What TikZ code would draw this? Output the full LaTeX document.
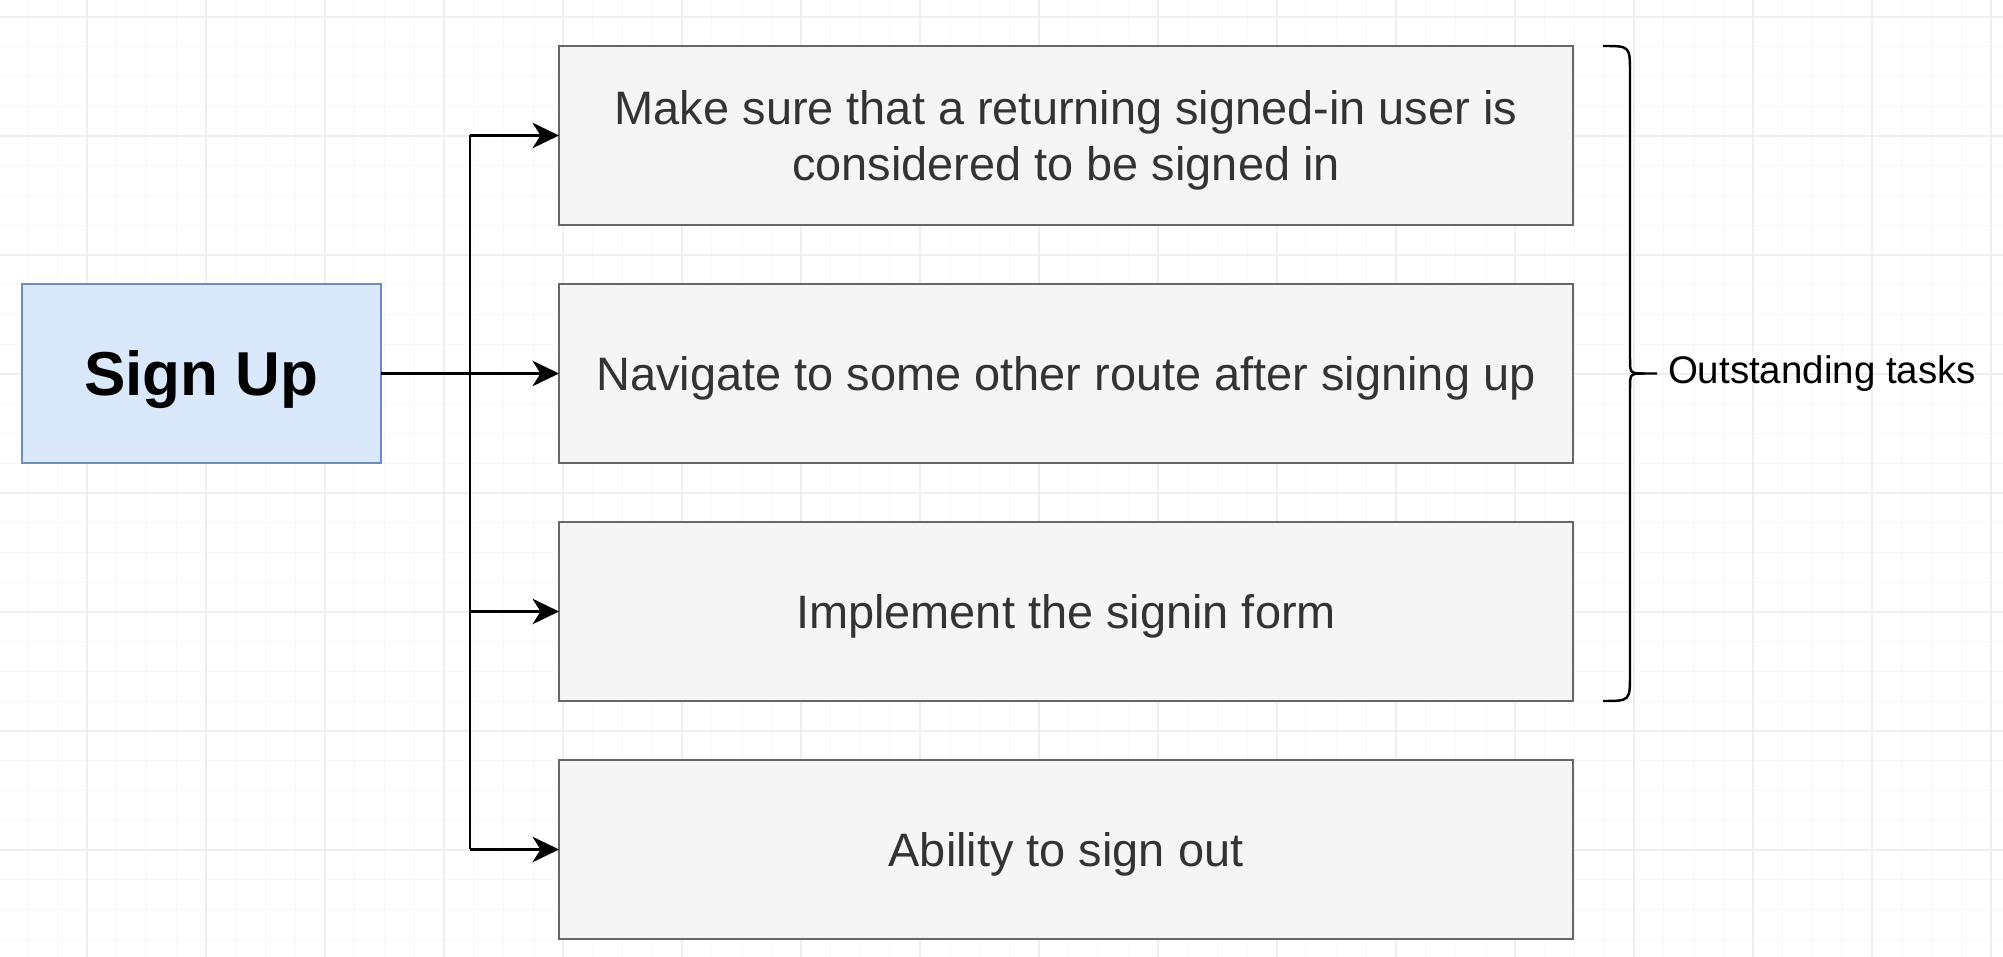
\documentclass[tikz,border=0pt]{standalone}
\usepackage{fontspec}
\setmainfont{Liberation Sans}
\usetikzlibrary{positioning,arrows.meta}
\definecolor{subox}{HTML}{DAE8FC}
\definecolor{suline}{HTML}{6C8EBF}
\definecolor{tkbox}{HTML}{F5F5F5}
\definecolor{tkline}{HTML}{666666}
\definecolor{tktext}{HTML}{333333}
\definecolor{gridmin}{HTML}{F7F7F7}
\definecolor{gridmaj}{HTML}{EFEFEF}

\begin{document}
\begin{tikzpicture}[scale=1.0]
\tikzset{ >={Stealth[length=5.3mm, width=5.1mm, inset=1.6mm]}, inner sep=0pt, outer sep=0pt,
  task/.style={draw=tkline, fill=tkbox, line width=1.1pt, minimum width=20.28cm, minimum height=3.58cm,
    text=tktext, align=center, text depth=0pt, font=\fontsize{26.7}{31.8}\selectfont},
  signup/.style={draw=suline, fill=subox, line width=1.1pt, minimum width=7.18cm, minimum height=3.58cm,
    text depth=0pt, font=\fontsize{35.3}{42}\selectfont\bfseries},
  link/.style={->, line width=1.4pt},
}

\useasboundingbox (0,0) rectangle (40.06,19.14);

%%% Grade de fundo
\foreach \i in {0,...,66} \draw [gridmin, line width=0.8pt] ({0.55+\i*0.595},0) -- ({0.55+\i*0.595},19.14);
\foreach \j in {0,...,31} \draw [gridmin, line width=0.8pt] (0,{0.355+\j*0.595}) -- (40.06,{0.355+\j*0.595});
\foreach \i in {0,...,16} \draw [gridmaj, line width=1pt] ({1.74+\i*2.38},0) -- ({1.74+\i*2.38},19.14);
\foreach \j in {0,...,7} \draw [gridmaj, line width=1pt] (0,{2.14+\j*2.38}) -- (40.06,{2.14+\j*2.38});

%%% Blocos

% tarefas
\node [task] (TK1) at (21.32,16.43) {Make sure that a returning signed-in user is\\considered to be signed in};
\node [task, below=1.18cm of TK1] (TK2) {Navigate to some other route after signing up};
\node [task, below=1.18cm of TK2] (TK3) {Implement the signin form};
\node [task, below=1.18cm of TK3] (TK4) {Ability to sign out};

% Sign Up
\node [signup, left=3.56cm of TK2] (SU) {Sign Up};

%%% Linhas

% Sign Up -> tarefa 2
\draw [link] (SU) -- (TK2);

% tronco vertical -> tarefas 1, 3, 4
\coordinate (TR) at (9.40,11.67);
\draw [line width=1.4pt] (TK1.west -| TR) -- (TK4.west -| TR);
\foreach \t in {TK1,TK3,TK4} \draw [link] (\t.west -| TR) -- (\t.west);

%%% Chave
\coordinate (BRtop) at ([xshift=0.6cm]TK1.north east);
\coordinate (BRbot) at ([xshift=0.6cm]TK3.south east);
\coordinate (BRtip) at (33.14,11.67);
\draw [line width=1.4pt] (BRtop) .. controls (32.6,18.22) .. (32.6,17.68) -- (32.6,11.97)
  .. controls (32.6,11.67) .. (32.9,11.67) -- (BRtip);
\draw [line width=1.4pt] (32.9,11.67) .. controls (32.6,11.67) .. (32.6,11.37) -- (32.6,5.66)
  .. controls (32.6,5.12) .. (BRbot);
\node [anchor=west, font=\fontsize{21.9}{26}\selectfont] (OT) at ([xshift=0.22cm]BRtip) {Outstanding tasks};

\end{tikzpicture}
\end{document}
